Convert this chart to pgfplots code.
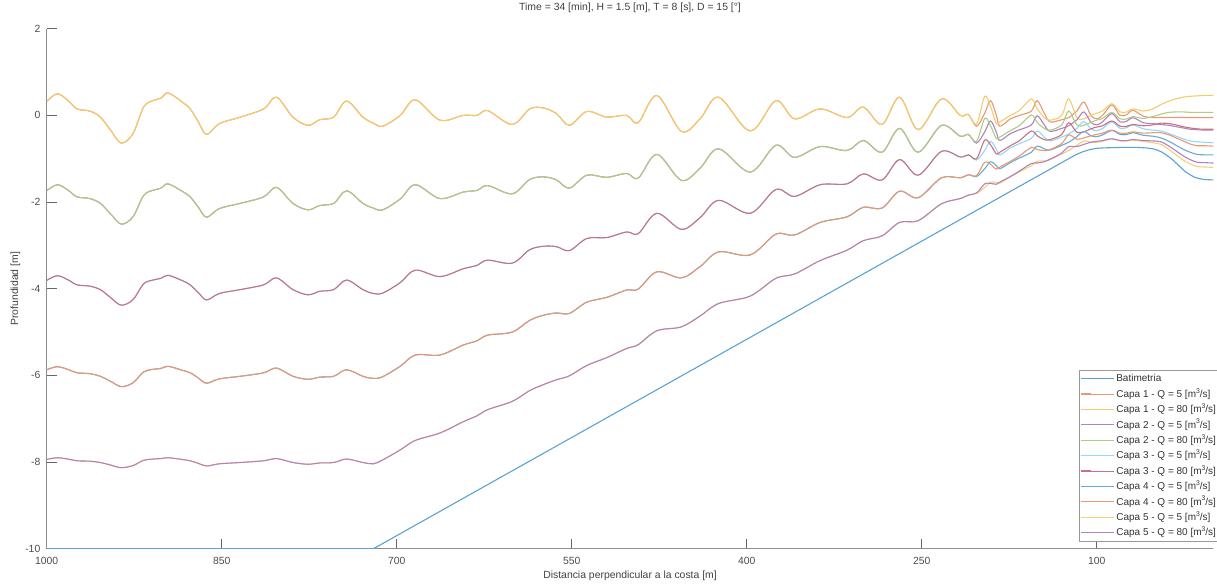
\documentclass[border=0pt]{standalone}
\usepackage{fontspec}
\setmainfont{Liberation Sans}
\usepackage{pgfplots}
\usepackage{pgfplotstable}
\pgfplotsset{compat=1.18}
\definecolor{cB}{RGB}{0,114,189}
\definecolor{cO}{RGB}{217,83,25}
\definecolor{cY}{RGB}{237,177,32}
\definecolor{cP}{RGB}{126,47,142}
\definecolor{cG}{RGB}{119,172,48}
\definecolor{cC}{RGB}{77,190,238}
\definecolor{cR}{RGB}{162,20,47}
\newcommand{\mcub}{[m\raisebox{0.42em}{\fontsize{3.4}{4}\selectfont 3}/s]}

\pgfplotstableread{
x y
1000 -10
720 -10
130 -1.09
124 -1.00
118 -0.91
112 -0.84
106 -0.79
100 -0.76
94 -0.75
80 -0.74
65 -0.74
58 -0.75
52 -0.77
48 -0.80
44 -0.85
40 -0.92
36 -1.00
32 -1.10
28 -1.20
24 -1.30
20 -1.37
16 -1.43
12 -1.46
8 -1.48
0 -1.49
}\tbat

\pgfplotstableread{
x a1 a2 a3 a4 a5 b1 b2 b3 b4 b5
1000 0.32 -1.74 -3.81 -5.87 -7.94 0.32 -1.74 -3.81 -5.87 -7.94
991 0.50 -1.60 -3.70 -5.80 -7.90 0.50 -1.60 -3.70 -5.80 -7.90
982 0.35 -1.72 -3.79 -5.86 -7.93 0.35 -1.72 -3.79 -5.86 -7.93
974 0.15 -1.88 -3.91 -5.94 -7.97 0.15 -1.88 -3.91 -5.94 -7.97
963 0.10 -1.92 -3.94 -5.96 -7.98 0.10 -1.92 -3.94 -5.96 -7.98
954 -0.04 -2.03 -4.02 -6.02 -8.01 -0.04 -2.03 -4.02 -6.02 -8.01
945 -0.35 -2.28 -4.21 -6.14 -8.07 -0.35 -2.28 -4.21 -6.14 -8.07
936 -0.64 -2.51 -4.38 -6.26 -8.13 -0.64 -2.51 -4.38 -6.26 -8.13
926 -0.42 -2.34 -4.25 -6.17 -8.08 -0.42 -2.34 -4.25 -6.17 -8.08
917 0.19 -1.85 -3.89 -5.92 -7.96 0.19 -1.85 -3.89 -5.92 -7.96
909 0.34 -1.73 -3.80 -5.86 -7.93 0.34 -1.73 -3.80 -5.86 -7.93
902 0.40 -1.68 -3.76 -5.84 -7.92 0.40 -1.68 -3.76 -5.84 -7.92
896 0.52 -1.58 -3.69 -5.79 -7.90 0.52 -1.58 -3.69 -5.79 -7.90
884 0.31 -1.75 -3.81 -5.88 -7.94 0.31 -1.75 -3.81 -5.88 -7.94
877 0.15 -1.88 -3.91 -5.94 -7.97 0.15 -1.88 -3.91 -5.94 -7.97
870 -0.15 -2.12 -4.09 -6.06 -8.03 -0.15 -2.12 -4.09 -6.06 -8.03
863 -0.44 -2.35 -4.26 -6.18 -8.09 -0.44 -2.35 -4.26 -6.18 -8.09
852 -0.19 -2.15 -4.11 -6.08 -8.04 -0.19 -2.15 -4.11 -6.08 -8.04
834 -0.04 -2.03 -4.02 -6.02 -8.01 -0.04 -2.03 -4.02 -6.02 -8.01
814 0.15 -1.88 -3.91 -5.94 -7.97 0.15 -1.88 -3.91 -5.94 -7.97
803 0.42 -1.66 -3.75 -5.83 -7.92 0.42 -1.66 -3.75 -5.83 -7.92
789 -0.04 -2.03 -4.02 -6.02 -8.01 -0.04 -2.03 -4.02 -6.02 -8.01
776 -0.23 -2.18 -4.14 -6.09 -8.05 -0.23 -2.18 -4.14 -6.09 -8.05
766 -0.10 -2.08 -4.06 -6.04 -8.02 -0.10 -2.08 -4.06 -6.04 -8.02
754 -0.04 -2.03 -4.02 -6.02 -8.01 -0.04 -2.03 -4.02 -6.02 -8.01
743 0.33 -1.74 -3.80 -5.87 -7.93 0.33 -1.74 -3.80 -5.87 -7.93
729 -0.04 -2.03 -4.02 -6.02 -8.01 -0.04 -2.03 -4.02 -6.02 -8.01
720 -0.18 -2.14 -4.11 -6.07 -8.04 -0.18 -2.14 -4.11 -6.07 -8.04
712 -0.25 -2.18 -4.10 -6.03 -7.95 -0.25 -2.18 -4.10 -6.03 -7.95
697 0.00 -1.93 -3.86 -5.79 -7.72 0.00 -1.93 -3.86 -5.79 -7.72
684 0.36 -1.60 -3.57 -5.53 -7.50 0.36 -1.60 -3.57 -5.53 -7.50
663 -0.11 -1.92 -3.72 -5.53 -7.33 -0.11 -1.92 -3.72 -5.53 -7.33
643 0.00 -1.77 -3.54 -5.30 -7.07 0.00 -1.77 -3.54 -5.30 -7.07
631 0.00 -1.73 -3.46 -5.20 -6.93 0.00 -1.73 -3.46 -5.20 -6.93
622 0.11 -1.62 -3.34 -5.07 -6.79 0.11 -1.62 -3.34 -5.07 -6.79
601 -0.21 -1.81 -3.41 -5.00 -6.60 -0.21 -1.81 -3.41 -5.00 -6.60
586 0.15 -1.48 -3.10 -4.73 -6.35 0.15 -1.48 -3.10 -4.73 -6.35
574 0.17 -1.42 -3.02 -4.61 -6.21 0.17 -1.42 -3.02 -4.61 -6.21
563 0.04 -1.49 -3.03 -4.56 -6.10 0.04 -1.49 -3.03 -4.56 -6.10
552 -0.23 -1.68 -3.12 -4.57 -6.01 -0.23 -1.68 -3.12 -4.57 -6.01
537 0.09 -1.38 -2.84 -4.31 -5.77 0.09 -1.38 -2.84 -4.31 -5.77
520 -0.04 -1.43 -2.82 -4.20 -5.59 -0.04 -1.43 -2.82 -4.20 -5.59
503 0.00 -1.34 -2.69 -4.03 -5.38 0.00 -1.34 -2.69 -4.03 -5.38
493 -0.17 -1.45 -2.73 -4.01 -5.29 -0.17 -1.45 -2.73 -4.01 -5.29
477 0.46 -0.90 -2.26 -3.61 -4.97 0.46 -0.90 -2.26 -3.61 -4.97
456 -0.37 -1.50 -2.63 -3.75 -4.88 -0.37 -1.50 -2.63 -3.75 -4.88
440 -0.08 -1.22 -2.36 -3.49 -4.63 -0.08 -1.22 -2.36 -3.49 -4.63
424 0.42 -0.77 -1.96 -3.15 -4.34 0.42 -0.77 -1.96 -3.15 -4.34
397 -0.36 -1.31 -2.26 -3.22 -4.17 -0.36 -1.31 -2.26 -3.22 -4.17
375 0.34 -0.69 -1.71 -2.74 -3.76 0.34 -0.69 -1.71 -2.74 -3.76
359 -0.08 -0.97 -1.87 -2.76 -3.66 -0.08 -0.97 -1.87 -2.76 -3.66
337 0.15 -0.72 -1.60 -2.47 -3.35 0.15 -0.72 -1.60 -2.47 -3.35
314 -0.05 -0.81 -1.58 -2.34 -3.11 -0.05 -0.81 -1.58 -2.34 -3.11
300 0.19 -0.58 -1.35 -2.12 -2.89 0.19 -0.58 -1.35 -2.12 -2.89
284 -0.21 -0.85 -1.49 -2.14 -2.78 -0.21 -0.85 -1.49 -2.14 -2.78
269 0.42 -0.30 -1.02 -1.75 -2.47 0.42 -0.30 -1.02 -1.75 -2.47
253 -0.33 -0.85 -1.38 -1.90 -2.43 -0.33 -0.85 -1.38 -1.90 -2.43
233 0.38 -0.23 -0.83 -1.44 -2.04 0.38 -0.23 -0.83 -1.44 -2.04
217 0.00 -0.48 -0.96 -1.44 -1.92 0.00 -0.48 -0.96 -1.44 -1.92
210 0.02 -0.44 -0.91 -1.37 -1.84 0.02 -0.44 -0.91 -1.37 -1.84
203 -0.25 -0.64 -1.03 -1.41 -1.80 -0.20 -0.60 -1.00 -1.39 -1.79
196 0.05 -0.38 -0.81 -1.23 -1.66 0.44 -0.07 -0.57 -1.08 -1.58
191 0.34 -0.13 -0.60 -1.07 -1.54 0.20 -0.24 -0.68 -1.13 -1.57
186 0.00 -0.39 -0.78 -1.16 -1.55 -0.19 -0.54 -0.89 -1.24 -1.59
183 -0.25 -0.58 -0.91 -1.23 -1.56 -0.15 -0.50 -0.85 -1.19 -1.54
174 -0.08 -0.42 -0.75 -1.09 -1.42 0.00 -0.35 -0.70 -1.06 -1.41
166 0.00 -0.33 -0.65 -0.98 -1.30 0.12 -0.23 -0.58 -0.93 -1.28
156 0.10 -0.22 -0.53 -0.85 -1.16 0.38 0.01 -0.36 -0.74 -1.11
151 0.34 -0.01 -0.36 -0.71 -1.06 0.15 -0.16 -0.47 -0.79 -1.10
145 0.05 -0.22 -0.50 -0.77 -1.05 -0.05 -0.30 -0.56 -0.81 -1.07
140 -0.15 -0.37 -0.59 -0.80 -1.02 -0.11 -0.34 -0.56 -0.79 -1.01
130 -0.10 -0.30 -0.50 -0.69 -0.89 0.00 -0.22 -0.44 -0.65 -0.87
124 -0.05 -0.24 -0.43 -0.62 -0.81 0.38 0.10 -0.17 -0.45 -0.72
117 0.10 -0.10 -0.30 -0.49 -0.69 -0.05 -0.22 -0.39 -0.55 -0.72
111 0.31 0.08 -0.14 -0.37 -0.59 -0.08 -0.23 -0.38 -0.52 -0.67
105 0.00 -0.16 -0.31 -0.47 -0.62 0.00 -0.16 -0.31 -0.47 -0.62
100 -0.08 -0.22 -0.35 -0.49 -0.62 0.05 -0.11 -0.27 -0.44 -0.60
95 0.00 -0.15 -0.30 -0.45 -0.60 0.10 -0.07 -0.24 -0.41 -0.58
87 0.24 0.04 -0.15 -0.35 -0.54 0.27 0.07 -0.13 -0.34 -0.54
80 0.00 -0.15 -0.30 -0.44 -0.59 0.08 -0.08 -0.25 -0.41 -0.58
74 0.02 -0.13 -0.28 -0.44 -0.59 0.08 -0.08 -0.25 -0.41 -0.58
69 0.12 -0.05 -0.22 -0.40 -0.57 0.15 -0.03 -0.21 -0.38 -0.56
60 -0.02 -0.17 -0.31 -0.46 -0.60 0.10 -0.07 -0.24 -0.41 -0.58
52 -0.05 -0.19 -0.34 -0.48 -0.63 0.15 -0.03 -0.22 -0.40 -0.59
45 -0.05 -0.21 -0.36 -0.52 -0.67 0.25 0.03 -0.18 -0.40 -0.61
38 -0.05 -0.23 -0.42 -0.60 -0.79 0.33 0.07 -0.19 -0.45 -0.71
32 -0.05 -0.26 -0.48 -0.69 -0.91 0.38 0.08 -0.22 -0.52 -0.82
26 -0.05 -0.29 -0.54 -0.78 -1.03 0.42 0.08 -0.26 -0.59 -0.93
20 -0.05 -0.32 -0.59 -0.85 -1.12 0.44 0.07 -0.29 -0.66 -1.02
14 -0.05 -0.33 -0.61 -0.90 -1.18 0.45 0.07 -0.31 -0.70 -1.08
8 -0.05 -0.34 -0.62 -0.91 -1.19 0.46 0.07 -0.32 -0.70 -1.09
0 -0.05 -0.34 -0.63 -0.91 -1.20 0.46 0.07 -0.32 -0.71 -1.10
}\tq

\begin{document}
\begin{tikzpicture}
\begin{axis}[
  name=ax, scale only axis, width=583.3pt, height=260pt,
  x dir=reverse, xmin=0, xmax=1000, ymin=-10, ymax=2,
  xtick={100,250,400,550,700,850,1000}, ytick={-10,-8,-6,-4,-2,0,2},
  axis x line*=bottom, axis y line*=left,
  tick align=inside, major tick length=5pt,
  axis line style={draw=black!45, line width=0.5pt},
  every tick/.style={draw=black!60, line width=0.4pt},
  tick label style={font=\fontsize{5.2}{6}\selectfont, text=black!70, inner sep=0pt},
  xticklabel style={anchor=north, yshift=-4pt},
  yticklabel style={anchor=east, xshift=-3pt},
  /pgf/number format/assume math mode=true,
  /pgf/number format/1000 sep={},
  xlabel={Distancia perpendicular a la costa [m]},
  ylabel={Profundidad [m]},
  title={Time = 34 [min], H = 1.5 [m], T = 8 [s], D = 15 [°]},
  label style={font=\fontsize{5.2}{6}\selectfont, text=black!75, inner sep=0pt},
  xlabel style={at={(axis description cs:0.5,0)}, anchor=north, yshift=-10.8pt},
  ylabel style={at={(axis description cs:-0.0223,0.5)}, anchor=south, rotate=0},
  title style={at={(axis description cs:0.5,1)}, anchor=south, yshift=2pt, font=\fontsize{5.2}{6}\selectfont, text=black!75, inner sep=0pt},
  legend style={at={(axis description cs:1,0)}, anchor=south east, xshift=3pt, yshift=3.5pt,
    draw=black!40, line width=0.4pt, fill=white, font=\fontsize{5}{6}\selectfont, text=black!80,
    inner sep=0.5pt, row sep=0pt,
    nodes={text height=4.9pt, text depth=1.6pt, inner xsep=1pt, inner ysep=0.6pt}},
  legend cell align=left,
  legend image code/.code={\path (0pt,0pt) -- (5pt,0pt); \draw[#1, line width=0.4pt] (5pt,0pt) -- (16.5pt,0pt);},
  every axis plot/.append style={line width=0.55pt},
]
\addplot[cB!65] table[x=x,y=y] \tbat;
\addlegendentry{Batimetria}
\addplot[cO!60, smooth, tension=0.55] table[x=x,y=a1] \tq;
\addlegendentry{Capa 1 - Q = 5 \mcub}
\addplot[cY!65, smooth, tension=0.55] table[x=x,y=b1] \tq;
\addlegendentry{Capa 1 - Q = 80 \mcub}
\addplot[cP!60, smooth, tension=0.55] table[x=x,y=a2] \tq;
\addlegendentry{Capa 2 - Q = 5 \mcub}
\addplot[cG!60, smooth, tension=0.55] table[x=x,y=b2] \tq;
\addlegendentry{Capa 2 - Q = 80 \mcub}
\addplot[cC!60, smooth, tension=0.55] table[x=x,y=a3] \tq;
\addlegendentry{Capa 3 - Q = 5 \mcub}
\addplot[cR!60, smooth, tension=0.55] table[x=x,y=b3] \tq;
\addlegendentry{Capa 3 - Q = 80 \mcub}
\addplot[cB!60, smooth, tension=0.55] table[x=x,y=a4] \tq;
\addlegendentry{Capa 4 - Q = 5 \mcub}
\addplot[cO!60, smooth, tension=0.55] table[x=x,y=b4] \tq;
\addlegendentry{Capa 4 - Q = 80 \mcub}
\addplot[cY!60, smooth, tension=0.55] table[x=x,y=a5] \tq;
\addlegendentry{Capa 5 - Q = 5 \mcub}
\addplot[cP!60, smooth, tension=0.55] table[x=x,y=b5] \tq;
\addlegendentry{Capa 5 - Q = 80 \mcub}
\end{axis}
\pgfresetboundingbox
\path[use as bounding box] ([xshift=-23.35pt,yshift=-17.5pt]ax.south west) rectangle ([xshift=1.8pt,yshift=14.35pt]ax.north east);
\end{tikzpicture}
\end{document}
